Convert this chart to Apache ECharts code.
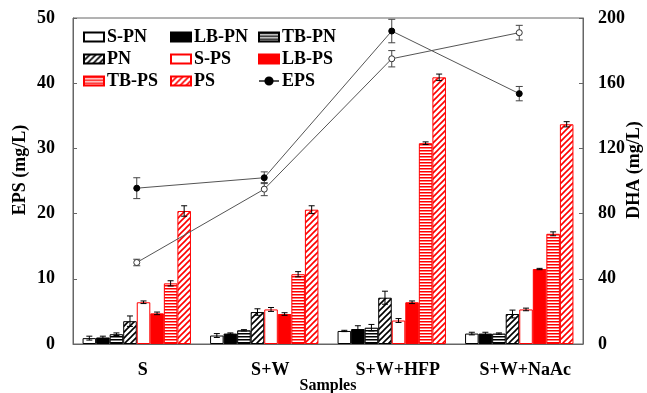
<!DOCTYPE html>
<html>
<head>
<meta charset="utf-8">
<script src="https://cdn.jsdelivr.net/npm/echarts@6/dist/echarts.min.js"></script>
<style>
  html, body { margin: 0; padding: 0; background: #fff; }
  #chart { width: 647px; height: 393px; }
</style>
</head>
<body>
<div id="chart"></div>
<script>
// categories and values
var samples = ['S', 'S+W', 'S+W+HFP', 'S+W+NaAc'];
var barNames = ['S-PN', 'LB-PN', 'TB-PN', 'PN', 'S-PS', 'LB-PS', 'TB-PS', 'PS'];

var sPN  = [0.9, 1.3, 2.0, 1.6];
var lbPN = [1.0, 1.6, 2.3, 1.6];
var tbPN = [1.5, 2.1, 2.5, 1.6];
var pn   = [3.5, 4.9, 7.1, 4.6];
var sPS  = [6.4, 5.3, 3.6, 5.3];
var lbPS = [4.7, 4.6, 6.4, 11.5];
var tbPS = [9.3, 10.7, 30.8, 16.9];
var ps   = [20.4, 20.6, 40.9, 33.7];

var sPNErr  = [0.3, 0.3, 0.1, 0.2];
var lbPNErr = [0.2, 0.1, 0.5, 0.2];
var tbPNErr = [0.2, 0.1, 0.5, 0.1];
var pnErr   = [0.8, 0.5, 1.0, 0.6];
var sPSErr  = [0.2, 0.3, 0.3, 0.2];
var lbPSErr = [0.2, 0.2, 0.2, 0.1];
var tbPSErr = [0.4, 0.4, 0.2, 0.3];
var psErr   = [0.8, 0.6, 0.5, 0.4];

var eps    = [23.9, 25.5, 48.0, 38.4];
var epsErr = [1.6, 0.9, 1.8, 1.1];
var dha    = [50, 95, 175, 191];
var dhaErr = [2, 4, 5, 4.5];

var barValues = [sPN, lbPN, tbPN, pn, sPS, lbPS, tbPS, ps];
var barErrors = [sPNErr, lbPNErr, tbPNErr, pnErr, sPSErr, lbPSErr, tbPSErr, psErr];

var RED = '#ff0000';
var FONT = 'Liberation Serif';

// small canvas patterns for the hatched bars
function hPattern(color) {
    var c = document.createElement('canvas');
    c.width = 4; c.height = 3;
    var ctx = c.getContext('2d');
    ctx.fillStyle = '#fff';
    ctx.fillRect(0, 0, 4, 3);
    ctx.fillStyle = color;
    ctx.fillRect(0, 0, 4, 1.5);
    return { image: c, repeat: 'repeat' };
}
function dPattern(color) {
    var c = document.createElement('canvas');
    c.width = 6; c.height = 6;
    var ctx = c.getContext('2d');
    ctx.fillStyle = '#fff';
    ctx.fillRect(0, 0, 6, 6);
    ctx.strokeStyle = color;
    ctx.lineWidth = 1.6;
    ctx.beginPath();
    ctx.moveTo(-1, 7); ctx.lineTo(7, -1);
    ctx.moveTo(-4, 4); ctx.lineTo(4, -4);
    ctx.moveTo(2, 10); ctx.lineTo(10, 2);
    ctx.stroke();
    return { image: c, repeat: 'repeat' };
}

var barStyles = [
    { color: '#fff', borderColor: '#000' },
    { color: '#000', borderColor: '#000' },
    { color: hPattern('#000'), borderColor: '#000' },
    { color: dPattern('#000'), borderColor: '#000' },
    { color: '#fff', borderColor: RED },
    { color: RED, borderColor: RED },
    { color: hPattern(RED), borderColor: RED },
    { color: dPattern(RED), borderColor: RED }
];

var series = [];
barNames.forEach(function (name, i) {
    series.push({
        name: name,
        type: 'bar',
        barGap: '0%',
        barCategoryGap: '15%',
        itemStyle: {
            color: barStyles[i].color,
            borderColor: barStyles[i].borderColor,
            borderWidth: 1
        },
        emphasis: { disabled: true },
        data: barValues[i]
    });
});

// error bars of the bars
var errData = [];
barValues.forEach(function (vals, i) {
    vals.forEach(function (v, j) {
        errData.push([j, i, v, barErrors[i][j]]);
    });
});
series.push({
    type: 'custom',
    z: 3,
    silent: true,
    encode: { x: 0, y: 2 },
    data: errData,
    renderItem: function (params, api) {
        var cat = api.value(0), idx = api.value(1), v = api.value(2), e = api.value(3);
        var catW = api.size([1, 0])[0];
        var bw = catW * 0.85 / 8;
        var x = api.coord([cat, v])[0] + (idx - 3.5) * bw;
        var yHi = api.coord([cat, v + e])[1];
        var yLo = api.coord([cat, v - e])[1];
        var st = { stroke: '#000', lineWidth: 1 };
        return {
            type: 'group',
            children: [
                { type: 'line', shape: { x1: x, y1: yHi, x2: x, y2: yLo }, style: st },
                { type: 'line', shape: { x1: x - 3, y1: yHi, x2: x + 3, y2: yHi }, style: st },
                { type: 'line', shape: { x1: x - 3, y1: yLo, x2: x + 3, y2: yLo }, style: st }
            ]
        };
    }
});

function lineErr(vals, errs, axisIdx) {
    return {
        type: 'custom',
        z: 4,
        silent: true,
        yAxisIndex: axisIdx,
        encode: { x: 0, y: 1 },
        data: vals.map(function (v, j) { return [j, v, errs[j]]; }),
        renderItem: function (params, api) {
            var cat = api.value(0), v = api.value(1), e = api.value(2);
            var x = api.coord([cat, v])[0];
            var yHi = api.coord([cat, v + e])[1];
            var yLo = api.coord([cat, v - e])[1];
            var st = { stroke: '#444', lineWidth: 1 };
            return {
                type: 'group',
                children: [
                    { type: 'line', shape: { x1: x, y1: yHi, x2: x, y2: yLo }, style: st },
                    { type: 'line', shape: { x1: x - 3.5, y1: yHi, x2: x + 3.5, y2: yHi }, style: st },
                    { type: 'line', shape: { x1: x - 3.5, y1: yLo, x2: x + 3.5, y2: yLo }, style: st }
                ]
            };
        }
    };
}
series.push(lineErr(eps, epsErr, 0));
series.push(lineErr(dha, dhaErr, 1));

series.push({
    name: 'EPS',
    type: 'line',
    z: 5,
    symbol: 'circle',
    symbolSize: 6,
    lineStyle: { color: '#555', width: 1 },
    itemStyle: { color: '#000', borderColor: '#000', borderWidth: 1 },
    emphasis: { disabled: true },
    data: eps
});
series.push({
    name: 'DHA',
    type: 'line',
    z: 5,
    yAxisIndex: 1,
    symbol: 'circle',
    symbolSize: 6,
    lineStyle: { color: '#555', width: 1 },
    itemStyle: { color: '#fff', borderColor: '#333', borderWidth: 1 },
    emphasis: { disabled: true },
    data: dha
});

var labelStyle = { fontFamily: FONT, fontWeight: 'bold', fontSize: 18, color: '#000' };

function legendCol(left, names) {
    return {
        orient: 'vertical',
        left: left,
        top: 28,
        itemWidth: 20,
        itemHeight: 9,
        itemGap: 4,
        padding: 0,
        textStyle: { fontFamily: FONT, fontWeight: 'bold', fontSize: 18, color: '#000', padding: [0, 0, 0, -2] },
        data: names.map(function (n) {
            return n === 'EPS' ? { name: n } : { name: n, icon: 'rect' };
        })
    };
}

var option = {
    animation: false,
    backgroundColor: '#fff',
    grid: {
        left: 73, right: 64, top: 18, bottom: 49,
        containLabel: false,
        outerBoundsMode: 'none',
        show: true, borderColor: '#666', borderWidth: 1
    },
    legend: [
        legendCol(83, ['S-PN', 'PN', 'TB-PS']),
        legendCol(170, ['LB-PN', 'S-PS', 'PS']),
        legendCol(258, ['TB-PN', 'LB-PS', 'EPS'])
    ],
    xAxis: {
        type: 'category',
        data: samples,
        name: 'Samples',
        nameLocation: 'middle',
        nameGap: 34,
        nameMoveOverlap: false,
        nameTextStyle: { fontFamily: FONT, fontWeight: 'bold', fontSize: 16, color: '#000' },
        axisLine: { lineStyle: { color: '#666' } },
        axisTick: { inside: true, length: 5, lineStyle: { color: '#666' } },
        axisLabel: Object.assign({ margin: 17, padding: [0, 0, 0, 12] }, labelStyle)
    },
    yAxis: [{
        type: 'value',
        min: 0, max: 50, interval: 10,
        name: 'EPS (mg/L)',
        nameLocation: 'middle',
        nameGap: 44,
        nameMoveOverlap: false,
        nameTextStyle: { fontFamily: FONT, fontWeight: 'bold', fontSize: 18, color: '#000', padding: [0, 0, 0, 22] },
        axisLine: { show: true, lineStyle: { color: '#666' } },
        axisTick: { show: true, inside: true, length: 4, lineStyle: { color: '#666' } },
        splitLine: { show: false },
        axisLabel: Object.assign({ margin: 18 }, labelStyle)
    }, {
        type: 'value',
        min: 0, max: 200, interval: 40,
        name: 'DHA (mg/L)',
        nameLocation: 'middle',
        nameGap: 42,
        nameMoveOverlap: false,
        nameTextStyle: { fontFamily: FONT, fontWeight: 'bold', fontSize: 18, color: '#000', padding: [0, 0, 0, 22] },
        axisLine: { show: true, lineStyle: { color: '#666' } },
        axisTick: { show: true, inside: true, length: 4, lineStyle: { color: '#666' } },
        splitLine: { show: false },
        axisLabel: Object.assign({ margin: 15 }, labelStyle)
    }],
    series: series
};

var myChart = echarts.init(document.getElementById('chart'));
myChart.setOption(option);
</script>
</body>
</html>
